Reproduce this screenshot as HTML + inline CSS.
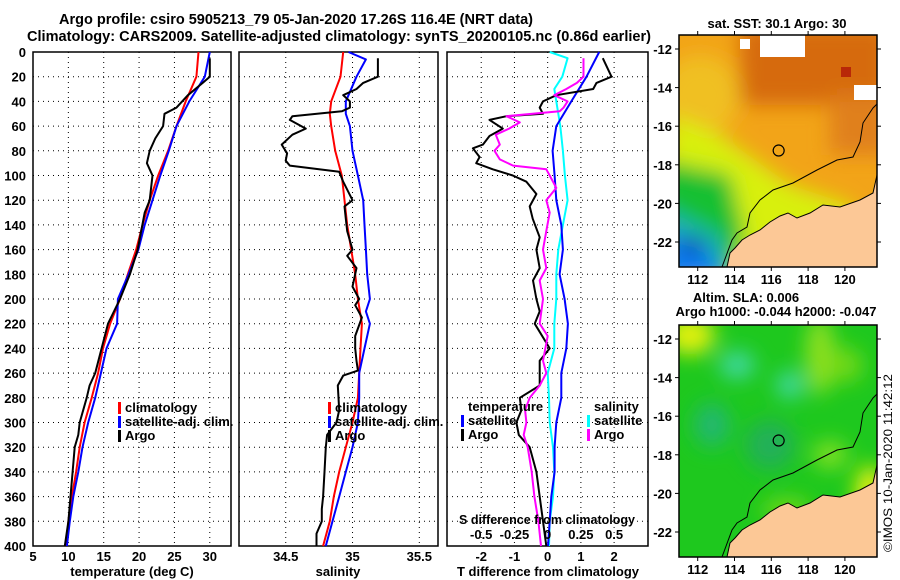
<!DOCTYPE html>
<html><head><meta charset="utf-8">
<style>
html,body{margin:0;padding:0;background:#fff;}
svg{display:block;font-family:"Liberation Sans",sans-serif;font-weight:bold;}
</style></head>
<body>
<svg id="fig" width="900" height="580" viewBox="0 0 900 580" xmlns="http://www.w3.org/2000/svg">
<defs>
<filter id="blur6" x="-50%" y="-50%" width="200%" height="200%"><feGaussianBlur stdDeviation="6"/></filter>
<filter id="blur10" x="-50%" y="-50%" width="200%" height="200%"><feGaussianBlur stdDeviation="10"/></filter>
<clipPath id="clipTop"><rect x="679" y="35" width="198" height="232"/></clipPath>
<clipPath id="clipBot"><rect x="679" y="325" width="198" height="232"/></clipPath>
</defs>
<text x="59" y="24" font-size="14.5" textLength="474" lengthAdjust="spacingAndGlyphs">Argo profile: csiro 5905213_79 05-Jan-2020 17.26S 116.4E (NRT data)</text>
<text x="27" y="41" font-size="14.5" textLength="624" lengthAdjust="spacingAndGlyphs">Climatology: CARS2009. Satellite-adjusted climatology: synTS_20200105.nc (0.86d earlier)</text>
<g id="panels"></g>
<g id="maps"></g>
<text transform="translate(892,552) rotate(-90)" font-size="12" font-weight="normal" textLength="178" lengthAdjust="spacingAndGlyphs">©IMOS 10-Jan-2020 11:42:12</text>
</svg>
<script>
// ---- data ----
const depthTicks = [0,20,40,60,80,100,120,140,160,180,200,220,240,260,280,300,320,340,360,380,400];
const tempTicks = [5,10,15,20,25,30];
const salTicks = [34.5,35,35.5];
const tdiffTicks = [-2,-1,0,1,2];
const sdiffTickLabels = ["-0.5","-0.25","0","0.25","0.5"];
const sdiffTicks = [-0.5,-0.25,0,0.25,0.5];

const climTDepth = [0,20,40,60,80,100,120,140,160,180,200,220,240,260,280,300,320,340,360,380,400];
const climT = [28.4,28.1,26.6,25.3,24.1,22.7,21.5,20.5,19.6,18.4,17.3,15.9,14.9,14.2,13.3,12.3,11.6,11.1,10.5,10.0,9.7];
const satT = [30.0,29.3,27.1,25.3,24.2,23.0,21.9,20.8,19.9,18.5,17.0,16.9,15.4,14.6,13.8,12.8,12.0,11.4,10.7,10.2,9.8];
const argoTDepth = [5,20,25,35,45,50,60,70,80,90,100,120,130,160,180,200,220,240,260,270,280,300,310,320,340,360,380,400];
const argoT = [30,30,29,26.9,25.3,23.6,23.4,22.3,21.5,21.1,21.9,21.5,20.8,19.8,18.7,17.3,15.6,14.7,13.8,13,12.6,11.6,11.4,10.9,10.6,10.3,10,9.5];

const climSDepth = [0,20,40,50,60,80,100,120,140,160,180,200,220,240,260,280,300,320,340,360,380,400];
const climS = [34.93,34.91,34.84,34.83,34.84,34.87,34.92,34.94,34.96,34.99,35.02,35.04,35.07,35.06,35.05,35.04,35.0,34.95,34.9,34.86,34.83,34.78];
const satSDepth = [0,6,20,35,40,50,60,80,100,120,140,160,180,200,210,220,240,260,280,300,320,340,360,380,400];
const satS = [34.97,35.10,35.03,34.97,34.95,34.95,34.98,35.0,35.04,35.08,35.09,35.10,35.11,35.13,35.10,35.13,35.09,35.05,35.05,35.04,35.0,34.95,34.9,34.85,34.8];
const argoSDepth = [5,20,25,30,35,40,45,48,52,55,62,67,75,82,88,92,97,105,120,125,135,145,160,165,175,190,200,205,215,230,240,250,258,262,270,290,300,310,320,340,360,370,380,390,400];
const argoS = [35.19,35.19,35.08,35.03,34.93,34.98,34.98,34.92,34.55,34.53,34.65,34.55,34.47,34.51,34.5,34.53,34.9,34.93,35.0,34.94,34.95,34.96,35.0,34.96,35.03,35.0,35.05,35.02,35.07,35.02,35.02,35.03,35.04,34.93,34.89,34.9,34.88,34.81,34.8,34.79,34.78,34.77,34.77,34.73,34.73];

const satTdDepth = [0,20,40,60,80,100,120,140,160,180,200,220,240,260,280,300,320,340,360,380,400];
const satTd = [1.55,1.17,0.71,0.26,0.15,0.21,0.26,0.41,0.46,0.36,0.51,0.61,0.56,0.41,0.41,0.26,0.21,0.21,0.11,0.06,0.01];
const satSdDepth = [0,5,20,30,40,60,80,100,120,140,160,180,200,220,240,260,280,300,320,340,360,380,400];
const satSd = [0.015,0.15,0.11,0.05,0.065,0.095,0.115,0.13,0.15,0.115,0.08,0.065,0.065,0.05,0.05,0.0,0.01,0.015,0.04,0.05,0.04,0.015,0.01];
const argoTdDepth = [5,20,25,30,35,40,45,50,52,55,62,68,75,78,85,90,95,100,105,115,125,135,150,160,175,185,200,210,220,240,250,270,280,290,300,310,320,340,360,380,400];
const argoTd = [1.66,1.92,1.47,1.37,0.26,-0.14,-0.24,-0.14,-1.24,-1.75,-1.35,-1.75,-1.95,-2.25,-2.05,-2.15,-1.65,-1.05,-0.64,-0.34,-0.54,-0.45,-0.24,-0.34,-0.24,-0.44,-0.34,-0.24,-0.39,0.06,-0.24,-0.24,-0.84,-0.79,-0.94,-0.87,-0.54,-0.34,-0.24,-0.14,-0.04];
const argoSdDepth = [5,20,25,30,35,40,45,48,52,57,62,67,75,80,87,92,95,100,110,120,130,145,160,175,185,200,220,230,250,260,270,280,290,300,310,320,340,360,380,400];
const argoSd = [0.27,0.27,0.22,0.14,0.05,0.15,0.12,0.09,-0.31,-0.21,-0.29,-0.39,-0.36,-0.4,-0.36,-0.26,-0.01,0.015,0.065,-0.01,0.015,-0.01,-0.035,-0.01,-0.06,-0.035,-0.06,0,-0.035,-0.01,-0.06,-0.135,-0.17,-0.16,-0.18,-0.15,-0.12,-0.1,-0.07,-0.05];

const latTicks = [-12,-14,-16,-18,-20,-22];
const lonTicks = [112,114,116,118,120];
const argoLon = 116.4, argoLat = -17.26;

// ---- helpers ----
const NS = "http://www.w3.org/2000/svg";
const panelsG = document.getElementById('panels');
const mapsG = document.getElementById('maps');
function mk(tag, attrs, parent){const e=document.createElementNS(NS,tag);for(const k in attrs)e.setAttribute(k,attrs[k]);parent.appendChild(e);return e;}
const Y0=52, Y1=546;
function yD(d){return Y0+(d/400)*(Y1-Y0);}

function makePanel(name,x0,x1,vmin,vmax,xticks,xlabels,xlabel,xlabelX){
  const g=mk('g',{},panelsG);
  
  
  const sx=v=>x0+(v-vmin)/(vmax-vmin)*(x1-x0);
  depthTicks.forEach(d=>{
    if(d>0&&d<400){const l=mk('line',{x1:x0,x2:x1,y1:yD(d),y2:yD(d),stroke:'#000','stroke-width':1,'stroke-dasharray':'1,4'},g);
    
    }
  });
  xticks.forEach((v,i)=>{
    const x=sx(v);
    const l=mk('line',{x1:x,x2:x,y1:Y0,y2:Y1,stroke:'#000','stroke-width':1,'stroke-dasharray':'1,4'},g);
    
    
    const t=mk('text',{x:x,y:561,'font-size':13,'text-anchor':'middle'},g);
    t.textContent=xlabels[i];
    
    
  });
  const r=mk('rect',{x:x0,y:Y0,width:x1-x0,height:Y1-Y0,fill:'none',stroke:'#000','stroke-width':1.5},g);
  
  
  const xl=mk('text',{x:xlabelX,y:576,'font-size':13,'text-anchor':'middle'},g);
  xl.textContent=xlabel;
  
  
  return {g,sx};
}
function line(p,depths,vals,color,name,sx){
  const pts=depths.map((d,i)=>sx(vals[i]).toFixed(1)+','+yD(d).toFixed(1)).join(' ');
  const pl=mk('polyline',{points:pts,fill:'none',stroke:color,'stroke-width':2,'stroke-linejoin':'round'},p.g);
  
  
}
function legend(g,x,y,color,label,name){
  const m=mk('rect',{x:x,y:y-10,width:3,height:12,fill:color},g);
  
  
  const t=mk('text',{x:x+7,y:y,'font-size':13},g);
  t.textContent=label;
  
  
}

depthTicks.forEach(d=>{
  const t=mk('text',{x:26,y:yD(d)+5,'font-size':13,'text-anchor':'end'},panelsG);
  t.textContent=d;
  
  
});

const p1=makePanel('temperature-panel',33,231,5,33,tempTicks,tempTicks.map(String),'temperature (deg C)',132);
line(p1,climTDepth,climT,'#f00','climatology-temperature-line',p1.sx);
line(p1,climTDepth,satT,'#00f','satellite-temperature-line',p1.sx);
line(p1,argoTDepth,argoT,'#000','argo-temperature-line',p1.sx);
legend(p1.g,118,412,'#f00','climatology','legend-climatology');
legend(p1.g,118,426,'#00f','satellite-adj. clim.','legend-satellite-adj');
legend(p1.g,118,440,'#000','Argo','legend-argo');

const p2=makePanel('salinity-panel',239,438,34.15,35.64,salTicks,['34.5','35','35.5'],'salinity',338);
line(p2,climSDepth,climS,'#f00','climatology-salinity-line',p2.sx);
line(p2,satSDepth,satS,'#00f','satellite-salinity-line',p2.sx);
line(p2,argoSDepth,argoS,'#000','argo-salinity-line',p2.sx);
legend(p2.g,328,412,'#f00','climatology','legend-climatology-2');
legend(p2.g,328,426,'#00f','satellite-adj. clim.','legend-satellite-adj-2');
legend(p2.g,328,440,'#000','Argo','legend-argo-2');

const p3=makePanel('difference-panel',447,648,-3.03,3.02,tdiffTicks,tdiffTicks.map(String),'T difference from climatology',548);
const sxS=v=>p3.sx(v*4);
line(p3,satSdDepth,satSd,'#0ff','satellite-salinity-diff-line',sxS);
line(p3,satTdDepth,satTd,'#00f','satellite-temperature-diff-line',p3.sx);
line(p3,argoTdDepth,argoTd,'#000','argo-temperature-diff-line',p3.sx);
line(p3,argoSdDepth,argoSd,'#f0f','argo-salinity-diff-line',sxS);
{const t=mk('text',{x:468,y:411,'font-size':13},p3.g);t.textContent='temperature';

}
legend(p3.g,461,425,'#00f','satellite','legend-t-satellite');
legend(p3.g,461,439,'#000','Argo','legend-t-argo');
{const t=mk('text',{x:594,y:411,'font-size':13},p3.g);t.textContent='salinity';

}
legend(p3.g,587,425,'#0ff','satellite','legend-s-satellite');
legend(p3.g,587,439,'#f0f','Argo','legend-s-argo');
{const t=mk('text',{x:459,y:524,'font-size':13,textLength:176,lengthAdjust:'spacingAndGlyphs'},p3.g);t.textContent='S difference from climatology';

}
sdiffTicks.forEach((v,i)=>{
  const t=mk('text',{x:sxS(v),y:539,'font-size':13,'text-anchor':'middle'},p3.g);
  t.textContent=sdiffTickLabels[i];
  
  
});

// ---- maps ----
const MX0=679, MX1=877;
const lonX=lon=>697.7+(lon-112)*18.4;
const coast=[[877,175],[873,193],[860,200],[840,207],[823,205],[810,213],[797,218],[788,213],[780,216],[770,222],[760,230],[750,235],[742,240],[735,248],[730,253],[727,267],[877,267]];
const contour=[[877,104],[873,108],[863,123],[860,142],[853,157],[837,160],[817,170],[793,183],[773,190],[760,200],[750,213],[747,227],[737,233],[732,240],[722,267]];
function makeMap(name,top,clip,kind){
  const g=mk('g',{},mapsG);
  
  
  const off=top-35;
  const latY=lat=>top+14+(-12-lat)*19.3;
  const c=mk('g',{'clip-path':'url(#'+clip+')'},g);
  if(kind==='sst'){
    mk('rect',{x:MX0,y:top,width:198,height:232,fill:'#f2a418'},c);
    const b=mk('g',{filter:'url(#blur10)'},c);
    mk('rect',{x:740,y:top-10,width:150,height:80,fill:'#d66a10'},b);
    mk('rect',{x:830,y:top+60,width:60,height:60,fill:'#e0801a'},b);
    mk('ellipse',{cx:700,cy:top+60,rx:40,ry:40,fill:'#f0c020'},b);
    mk('polygon',{points:`670,${top+80} 720,${top+100} 790,${top+150} 850,${top+170} 870,${top+210} 700,${top+260} 660,${top+240}`,fill:'#d8f010'},b);
    mk('polygon',{points:`660,${top+125} 730,${top+140} 745,${top+200} 730,${top+250} 660,${top+250}`,fill:'#18c030'},b);
    mk('polygon',{points:`660,${top+170} 720,${top+200} 730,${top+250} 660,${top+250}`,fill:'#1ab0b0'},b);
    mk('polygon',{points:`660,${top+195} 710,${top+215} 725,${top+250} 660,${top+250}`,fill:'#1080f0'},b);
    mk('ellipse',{cx:692,cy:top+212,rx:12,ry:8,fill:'#1020b0'},b);
    mk('rect',{x:862,y:top+185,width:20,height:50,fill:'#e08018'},b);
    mk('rect',{x:760,y:top,width:45,height:22,fill:'#fff'},c);
    mk('rect',{x:854,y:top+50,width:23,height:15,fill:'#fff'},c);
    mk('rect',{x:740,y:top+4,width:10,height:10,fill:'#fff'},c);
    mk('rect',{x:841,y:top+32,width:10,height:10,fill:'#b82808'},c);
  } else {
    mk('rect',{x:MX0,y:top,width:198,height:232,fill:'#1ec81e'},c);
    const b=mk('g',{filter:'url(#blur10)'},c);
    mk('ellipse',{cx:690,cy:top+10,rx:25,ry:20,fill:'#e0f010'},b);
    mk('ellipse',{cx:737,cy:top+40,rx:18,ry:14,fill:'#40d8a0'},b);
    mk('ellipse',{cx:790,cy:top+60,rx:14,ry:14,fill:'#40d8a0'},b);
    mk('ellipse',{cx:712,cy:top+100,rx:18,ry:22,fill:'#20b870'},b);
    mk('ellipse',{cx:770,cy:top+120,rx:25,ry:25,fill:'#20b058'},b);
    mk('ellipse',{cx:820,cy:top+30,rx:14,ry:40,fill:'#90e020'},b);
    mk('ellipse',{cx:845,cy:top+40,rx:18,ry:18,fill:'#70d818'},b);
    mk('ellipse',{cx:870,cy:top+170,rx:15,ry:30,fill:'#e8f010'},b);
    mk('ellipse',{cx:830,cy:top+130,rx:18,ry:14,fill:'#80e020'},b);
    mk('ellipse',{cx:787,cy:top+185,rx:25,ry:12,fill:'#70d818'},b);
  }
  const land=mk('polygon',{points:coast.map(p=>p[0]+','+(p[1]+off)).join(' '),fill:'#fcc896',stroke:'#000','stroke-width':1},c);
  
  
  mk('polyline',{points:contour.map(p=>p[0]+','+(p[1]+off)).join(' '),fill:'none',stroke:'#000','stroke-width':1},c);
  const circ=mk('circle',{cx:lonX(argoLon),cy:latY(argoLat),r:5.5,fill:'none',stroke:'#000','stroke-width':1.2},g);
  
  
  mk('rect',{x:MX0,y:top,width:198,height:232,fill:'none',stroke:'#000','stroke-width':1.5},g);
  latTicks.forEach(l=>{
    const y=latY(l);
    mk('line',{x1:MX0-4,x2:MX0,y1:y,y2:y,stroke:'#000'},g);
    mk('line',{x1:MX1,x2:MX1+4,y1:y,y2:y,stroke:'#000'},g);
    const t=mk('text',{x:672,y:y+5,'font-size':13,'text-anchor':'end'},g);
    t.textContent=l;
    
    
  });
  lonTicks.forEach(l=>{
    const x=lonX(l);
    mk('line',{x1:x,x2:x,y1:top-4,y2:top,stroke:'#000'},g);
    mk('line',{x1:x,x2:x,y1:top+232,y2:top+236,stroke:'#000'},g);
    const t=mk('text',{x:x,y:top+249,'font-size':13,'text-anchor':'middle'},g);
    t.textContent=l;
    
    
  });
}
makeMap('sst-map',35,'clipTop','sst');
makeMap('sla-map',325,'clipBot','sla');
[[777,28,'sat. SST: 30.1 Argo: 30','sst-map-title','middle'],[746,302,'Altim. SLA: 0.006','sla-map-title','middle'],[776,316,'Argo h1000: -0.044 h2000: -0.047','argo-height-subtitle','middle']].forEach(a=>{
  const t=mk('text',{x:a[0],y:a[1],'font-size':13,'text-anchor':a[4]},mapsG);
  t.textContent=a[2];
  
  
});
</script>
</body></html>
